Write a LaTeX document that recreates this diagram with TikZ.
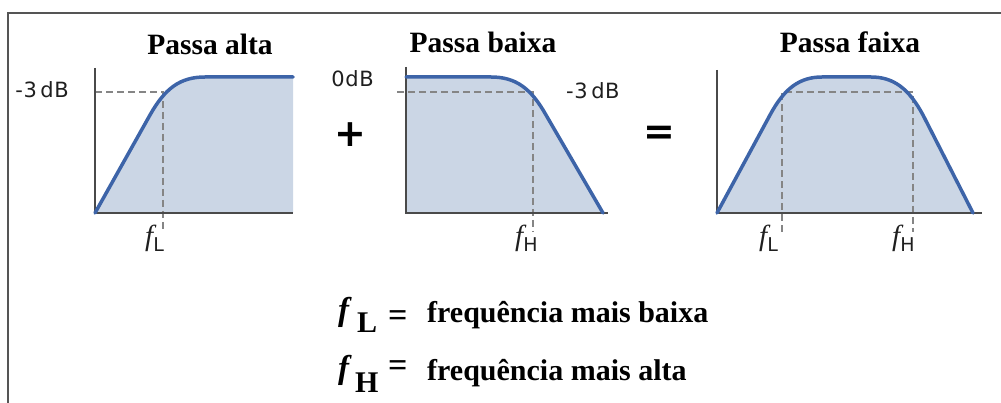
\documentclass[tikz,border=0pt]{standalone}
\usepackage{fontspec}
\setmainfont{Liberation Serif}
\newfontfamily\lblfont[LetterSpace=3]{DejaVu Sans}
\newfontfamily\symfont{DejaVu Sans}
\definecolor{curveblue}{HTML}{3D64A8}
\definecolor{fillblue}{HTML}{CBD6E5}
\definecolor{axisgray}{HTML}{4A4A4A}
\definecolor{dashgray}{HTML}{858585}
\definecolor{framegray}{HTML}{555555}
\tikzset{
  curve/.style={draw=curveblue, line width=3.5pt, line join=round, line cap=round},
  area/.style={fill=fillblue, draw=none},
  axis/.style={draw=axisgray, line width=1.6pt},
  guide/.style={draw=dashgray, line width=1.3pt, dash pattern=on 7pt off 4pt},
  frameline/.style={draw=framegray, line width=1.2pt},
  title/.style={font=\fontsize{29.5}{32}\selectfont\bfseries, text=black, anchor=base, inner sep=0pt},
  dblabel/.style={font=\lblfont\fontsize{21}{24}\selectfont, text=black!88, inner sep=0pt},
  flabel/.style={font=\fontsize{29}{30}\selectfont\itshape, text=black!88, anchor=base west, inner sep=0pt},
  opsign/.style={font=\symfont\bfseries\fontsize{38}{40}\selectfont, text=black, inner sep=0pt},
  legend/.style={font=\fontsize{30}{32}\selectfont\bfseries, text=black, anchor=base west, inner sep=0pt}
}
\newcommand{\subL}[1]{\raisebox{-6pt}{\normalfont\lblfont\fontsize{19}{20}\selectfont #1}}
\begin{document}
\begin{tikzpicture}[x=1pt,y=-1pt]
\useasboundingbox (0,0) rectangle (1001,403);
% frame
\coordinate (fbl) at (8,403);
\coordinate (ftl) at (8,13);
\coordinate (ftr) at (1001,13);
\draw[frameline] (fbl) -- (ftl) -- (ftr);

% ---------- Plot 1: Passa alta ----------
\coordinate (o1) at (95,213);
\coordinate (y1) at (95,68);
\coordinate (x1) at (293,213);
\coordinate (c1) at (163,92);
\fill[area] (95,213) -- (150,115) .. controls (165,88.4) and (180,77) .. (205,77) -- (293,77) -- (293,213) -- cycle;
\draw[guide] (95,92) -- (c1) -- (163,232);
\draw[axis] (y1) -- (o1) -- (x1);
\draw[curve] (o1) -- (150,115) .. controls (165,88.4) and (180,77) .. (205,77) -- (293,77);
\node[title] (t1) at (210,55) {Passa alta};
\node[dblabel, anchor=base east] (db1) at (69,98) {-3\,dB};
\node[flabel] (fl1) at (145,246) {f\kern0pt\subL{L}};

% ---------- Plot 2: Passa baixa ----------
\coordinate (o2) at (406,213);
\coordinate (y2) at (406,67);
\coordinate (x2) at (608,213);
\coordinate (c2) at (533,92);
\fill[area] (406,77) -- (491,77) .. controls (516,77) and (531,88.4) .. (546,115) -- (603,213) -- (406,213) -- cycle;
\draw[guide] (397,92) -- (c2) -- (533,232);
\draw[axis] (y2) -- (o2) -- (x2);
\draw[curve] (406,77) -- (491,77) .. controls (516,77) and (531,88.4) .. (546,115) -- (603,213);
\node[title] (t2) at (483,53) {Passa baixa};
\node[dblabel, anchor=base east] (db0) at (374,87) {0dB};
\node[dblabel, anchor=base west] (db2) at (566,99) {-3\,dB};
\node[flabel] (fh2) at (515,246) {f\kern0pt\subL{H}};

% ---------- Plot 3: Passa faixa ----------
\coordinate (o3) at (717,213);
\coordinate (y3) at (717,70);
\coordinate (x3) at (982,213);
\coordinate (c3l) at (782,92);
\coordinate (c3h) at (913,92);
\fill[area] (717,213) -- (770,115) .. controls (784,89) and (799,77) .. (822,77) -- (871,77) .. controls (894,77) and (909,89) .. (923,115) -- (973,213) -- cycle;
\draw[guide] (782,232) -- (c3l) -- (c3h) -- (913,232);
\draw[axis] (y3) -- (o3) -- (x3);
\draw[curve] (o3) -- (770,115) .. controls (784,89) and (799,77) .. (822,77) -- (871,77) .. controls (894,77) and (909,89) .. (923,115) -- (973,213);
\node[title] (t3) at (850,53) {Passa faixa};
\node[flabel] (fl3) at (759,246) {f\kern0pt\subL{L}};
\node[flabel] (fh3) at (892,246) {f\kern0pt\subL{H}};

% operators
\node[opsign] (plus) at (350,135) {+};
\node[opsign] (eq) at (659,135) {=};

% legend
\node[legend, font=\fontsize{33}{34}\selectfont\bfseries\itshape] (lf1) at (338,320) {f};
\node[legend] (lL) at (357,332) {L};
\node[legend, font=\fontsize{34}{34}\selectfont\bfseries] (le1) at (388,326) {=};
\node[legend] (lt1) at (427,323) {frequência mais baixa};
\node[legend, font=\fontsize{33}{34}\selectfont\bfseries\itshape] (lf2) at (338,378) {f};
\node[legend] (lH) at (355,392) {H};
\node[legend, font=\fontsize{34}{34}\selectfont\bfseries] (le2) at (388,376) {=};
\node[legend] (lt2) at (427,380) {frequência mais alta};
\end{tikzpicture}
\end{document}
